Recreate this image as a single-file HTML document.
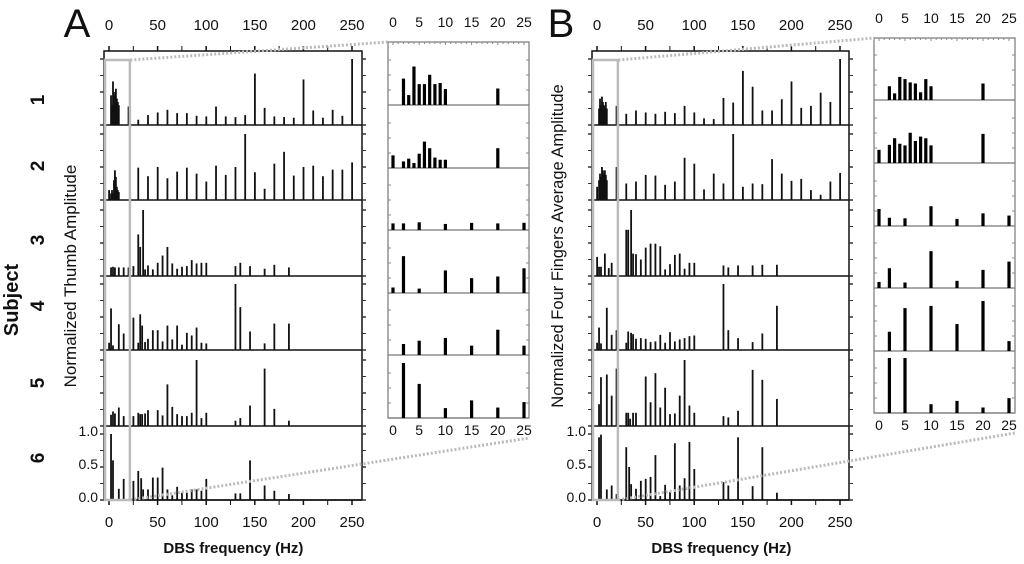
<!DOCTYPE html>
<html><head><meta charset="utf-8"><style>
body{margin:0;background:#fff;width:1024px;height:564px;overflow:hidden;font-family:"Liberation Sans",sans-serif}
svg{display:block}
</style></head><body>
<svg id="fig" width="1024" height="564" viewBox="0 0 1024 564" xmlns="http://www.w3.org/2000/svg" font-family="Liberation Sans, sans-serif"></svg>
<script>
// ---- data ----
const subjects = ["1","2","3","4","5","6"];
const mainTicks = [0,50,100,150,200,250];
const insetTicks = [0,5,10,15,20,25];
const yTickLabels = ["1.0","0.5","0.0"];
const yTickValues = [1,0.5,0];
const mainAFreq = [
 [2,3,4,5,6,7,8,9,10,20,30,40,50,60,70,80,90,100,110,120,130,140,150,160,170,180,190,200,210,220,230,240,250],
 [0,2,3,4,5,6,7,8,9,10,30,40,50,60,70,80,90,100,110,120,130,140,150,160,170,180,190,200,210,220,230,240,250],
 [2,4,6,10,15,20,25,30,32,35,37,40,45,50,55,60,65,70,75,80,85,90,95,100,130,135,145,160,170,185],
 [0,2,4,10,15,25,30,32,34,37,40,45,50,55,60,65,70,75,80,85,90,95,100,130,135,145,160,170,185],
 [2,4,6,10,15,25,30,32,34,37,40,50,55,60,65,70,75,80,85,90,95,100,130,135,145,160,170,185],
 [2,4,10,15,25,30,33,35,40,45,50,55,60,65,70,75,80,85,90,95,100,130,135,145,160,170,185]];
const mainAVal = [
 [0.45,0.3,0.66,0.5,0.45,0.55,0.4,0.35,0.3,0.28,0.08,0.15,0.19,0.23,0.18,0.18,0.14,0.13,0.28,0.13,0.12,0.15,0.78,0.26,0.13,0.12,0.11,0.69,0.22,0.11,0.23,0.14,1.0],
 [0.15,0.1,0.15,0.1,0.3,0.45,0.35,0.2,0.15,0.12,0.49,0.36,0.5,0.33,0.43,0.49,0.4,0.28,0.52,0.38,0.5,1.0,0.42,0.17,0.55,0.73,0.37,0.5,0.52,0.36,0.46,0.46,0.57],
 [0.13,0.14,0.13,0.13,0.13,0.13,0.15,0.63,0.44,1.0,0.1,0.16,0.1,0.2,0.31,0.44,0.19,0.11,0.14,0.15,0.24,0.19,0.2,0.2,0.15,0.2,0.15,0.11,0.17,0.13],
 [0.11,0.63,0.07,0.39,0.25,0.49,0.11,0.54,0.37,0.12,0.17,0.3,0.3,0.13,0.37,0.16,0.37,0.08,0.26,0.22,0.34,0.11,0.1,1.0,0.65,0.28,0.1,0.4,0.4],
 [0.17,0.22,0.19,0.28,0.15,0.15,0.2,0.18,0.18,0.19,0.24,0.24,0.16,0.63,0.29,0.18,0.15,0.15,0.2,1.0,0.12,0.2,0.08,0.12,0.31,0.87,0.26,0.08],
 [1.0,0.6,0.17,0.32,0.29,0.44,0.33,0.16,0.16,0.34,0.34,0.49,0.16,0.07,0.2,0.11,0.11,0.16,0.16,0.14,0.32,0.1,0.1,0.6,0.22,0.14,0.09]];
const mainBFreq = [
 [2,3,4,5,6,7,8,9,10,20,30,40,50,60,70,80,90,100,110,120,130,140,150,160,170,180,190,200,210,220,230,240,250],
 [0,2,3,4,5,6,7,8,9,10,20,30,40,50,60,70,80,90,100,110,120,130,140,150,160,170,180,190,200,210,220,230,240,250],
 [0,2,4,8,12,15,30,32,35,37,40,45,50,55,60,65,70,75,80,85,90,95,100,130,135,145,160,170,185],
 [0,2,4,10,15,20,30,32,35,37,40,45,50,55,60,65,70,75,80,85,90,95,100,130,135,145,160,170,185],
 [2,4,10,15,20,30,32,34,37,40,50,55,60,65,70,75,80,85,90,95,100,130,135,145,160,170,185],
 [2,4,10,15,20,30,33,35,40,45,50,55,60,65,70,75,80,85,90,95,100,130,135,145,160,170,185]];
const mainBVal = [
 [0.25,0.4,0.3,0.43,0.35,0.3,0.28,0.35,0.25,0.29,0.17,0.22,0.19,0.17,0.2,0.18,0.29,0.19,0.1,0.09,0.41,0.34,0.82,0.58,0.22,0.22,0.39,0.66,0.26,0.29,0.49,0.35,1.0],
 [0.2,0.3,0.4,0.35,0.5,0.45,0.4,0.45,0.38,0.3,0.5,0.25,0.28,0.38,0.37,0.23,0.28,0.64,0.55,0.16,0.4,0.25,1.0,0.2,0.25,0.24,0.62,0.4,0.29,0.32,0.15,0.08,0.28,0.41],
 [0.29,0.14,0.14,0.34,0.12,0.2,0.7,0.7,1.0,0.34,0.33,0.25,0.43,0.49,0.49,0.45,0.1,0.18,0.32,0.34,0.11,0.2,0.2,0.16,0.13,0.16,0.16,0.17,0.17],
 [0.11,0.34,0.1,0.64,0.23,0.3,0.11,0.28,0.26,0.24,0.17,0.18,0.17,0.12,0.13,0.23,0.11,0.27,0.13,0.16,0.18,0.21,0.22,1.0,0.3,0.18,0.12,0.25,0.67],
 [0.33,0.74,0.78,0.46,0.87,0.2,0.2,0.11,0.2,0.2,0.75,0.36,0.8,0.28,0.58,0.18,0.19,0.46,1.0,0.31,0.2,0.15,0.13,0.23,0.85,0.7,0.41],
 [0.95,0.99,0.16,0.22,0.09,0.8,0.5,0.24,0.17,0.29,0.32,0.35,0.68,0.06,0.23,0.12,0.86,0.22,0.33,0.88,0.47,0.27,0.22,0.95,0.21,0.8,0.11]];
const insetFreq12 = [[2,3,4,5,6,7,8,9,10,20],[0,2,3,4,5,6,7,8,9,10,20]];
const insetFreqRest = [0,2,5,10,15,20,25];
const insetAVal = [
 [0.48,0.18,0.7,0.38,0.38,0.55,0.38,0.4,0.29,0.3],
 [0.23,0.12,0.17,0.09,0.26,0.48,0.36,0.19,0.15,0.15,0.36],
 [0.12,0.12,0.14,0.11,0.13,0.12,0.13],
 [0.1,0.67,0.08,0.41,0.27,0.3,0.45],
 [0,0.2,0.26,0.31,0.17,0.46,0.17],
 [0,1.0,0.62,0.18,0.32,0.19,0.29]];
const insetBVal = [
 [0.25,0.12,0.42,0.38,0.32,0.3,0.14,0.38,0.25,0.3],
 [0.24,0.33,0.45,0.35,0.32,0.55,0.4,0.48,0.45,0.32,0.53],
 [0.31,0.15,0.14,0.36,0.13,0.23,0.19],
 [0.11,0.36,0.1,0.67,0.13,0.33,0.48],
 [0,0.35,0.78,0.82,0.49,0.91,0.18],
 [0,1.0,1.0,0.16,0.22,0.1,0.27]];

// ---- drawing ----
const NS="http://www.w3.org/2000/svg";
const svg=document.getElementById('fig');
function mk(tag,attrs,parent){const e=document.createElementNS(NS,tag);for(const k in attrs)e.setAttribute(k,attrs[k]);(parent||svg).appendChild(e);return e;}
function txt(s,x,y,size,attrs,parent){const t=mk('text',Object.assign({x:x,y:y,'font-size':size,'text-anchor':'middle',fill:'#111'},attrs||{}),parent);t.textContent=s;return t;}

const mainRowsBottom=[125,200,276,350,426,500];
const mainTop=51, mainUnit=66;
const insA={left:388,right:529,top:42,x0:393,sx:5.24,rows:[105,168,230,293,355,418]};
const insB={left:874,right:1015,top:38,x0:879,sx:5.2,rows:[100,163,226,288,351,413]};
const insUnit=55;

function drawPanel(p){
  const g=mk('g',{});
  
  
  const X=f=>p.x0+f*0.972;
  const fr=mk('rect',{x:p.left,y:mainTop,width:p.right-p.left,height:500-mainTop,fill:'none',stroke:'#111','stroke-width':1.5},g);
  
  
  mainRowsBottom.forEach((yb,r)=>{
    mk('line',{x1:p.left,x2:p.right,y1:yb,y2:yb,stroke:'#111','stroke-width':1.5},g);
    for(let k=0;k<5;k++){const y=yb-k*0.25*mainUnit;
      mk('line',{x1:p.left-4,x2:p.left,y1:y,y2:y,stroke:'#333','stroke-width':k%2?1:1.5},g);
      mk('line',{x1:p.right,x2:p.right+4,y1:y,y2:y,stroke:'#333','stroke-width':k%2?1:1.5},g);}
  });
  for(let f=0;f<=250;f+=25){
    mk('line',{x1:X(f),x2:X(f),y1:mainTop-5,y2:mainTop,stroke:'#111','stroke-width':f%50?1:1.5},g);
    mk('line',{x1:X(f),x2:X(f),y1:500,y2:505,stroke:'#111','stroke-width':f%50?1:1.5},g);
  }
  mainTicks.forEach(f=>{
    const a=txt(String(f),X(f),30,15,{},g);
    
    
    const b=txt(String(f),X(f),527,15,{},g);
    
    
  });
  yTickValues.forEach((v,i)=>{
    const t=txt(yTickLabels[i],p.left-6,500-3-v*mainUnit+5,14,{'text-anchor':'end'},g);
    
    
  });
  p.freq.forEach((fr,r)=>{
    fr.forEach((f,i)=>{
      const v=p.val[r][i];const h=v*mainUnit;
      const b=mk('rect',{x:X(f)-0.8,y:mainRowsBottom[r]-h,width:1.8,height:h,fill:'#111'},g);
      
      
    });
  });
  const zb=mk('rect',{x:p.left+1,y:60,width:X(21.5)-p.left-1,height:440,fill:'none',stroke:'#bbb','stroke-width':2.5},g);
  
  
  const I=p.ins;const XI=f=>I.x0+f*I.sx;
  const ir=mk('rect',{x:I.left,y:I.top,width:I.right-I.left,height:I.rows[5]-I.top,fill:'#fff',stroke:'#777','stroke-width':1.2},g);
  
  
  I.rows.forEach(yb=>{mk('line',{x1:I.left,x2:I.right,y1:yb,y2:yb,stroke:'#777','stroke-width':1.2},g);
    for(let k=1;k<4;k++){const y=yb-k*15;mk('line',{x1:I.left,x2:I.left+3,y1:y,y2:y,stroke:'#888'},g);mk('line',{x1:I.right-3,x2:I.right,y1:y,y2:y,stroke:'#888'},g);}});
  for(let f=0;f<=25;f++){mk('line',{x1:XI(f),x2:XI(f),y1:I.top,y2:I.top+(f%5?2:3),stroke:'#888'},g);}
  insetTicks.forEach(f=>{
    const a=txt(String(f),XI(f),I.top-15,14,{},g);
    
    
    const b=txt(String(f),XI(f),I.rows[5]+17,14,{},g);
    
    
  });
  p.insVal.forEach((vals,r)=>{
    const fr=r<2?insetFreq12[r]:insetFreqRest;
    vals.forEach((v,i)=>{ if(v<=0)return; const h=v*insUnit;
      const b=mk('rect',{x:XI(fr[i])-1.6,y:I.rows[r]-h,width:3.2,height:h,fill:'#000'},g);
      
      
    });
  });
  mk('line',{x1:X(22),y1:60,x2:I.left,y2:I.top,stroke:'#bbb','stroke-width':3,'stroke-dasharray':'2 2'},g);
  mk('line',{x1:X(22),y1:500,x2:I.right,y2:I.rows[5]+20,stroke:'#bbb','stroke-width':3,'stroke-dasharray':'2 2'},g);
  const L=txt(p.letter,p.letterX,37,40,{},g);
  
  
  const xt=txt('DBS frequency (Hz)',X(128),553,15,{'font-weight':'bold'},g);
  
  
  const yt=txt(p.ytitle,0,0,p.ytSize,{transform:'translate('+p.ytX+','+p.ytY+') rotate(-90)'},g);
  
  
}

drawPanel({name:'panel-a',letter:'A',letterX:77,left:104,right:362,x0:109,freq:mainAFreq,val:mainAVal,ins:insA,insVal:insetAVal,ytitle:'Normalized Thumb Amplitude',ytX:76,ytY:276,ytSize:17});
drawPanel({name:'panel-b',letter:'B',letterX:561,left:592,right:849,x0:597,freq:mainBFreq,val:mainBVal,ins:insB,insVal:insetBVal,ytitle:'Normalized Four Fingers Average Amplitude',ytX:563,ytY:246,ytSize:16.5});

const rowLabelY=[100,166,240,306,383,458];
subjects.forEach((s,i)=>{
  const t=txt(s,0,0,19,{'font-weight':'bold',transform:'translate(44,'+rowLabelY[i]+') rotate(-90)'});
  
  
});
const st=txt('Subject',0,0,20,{'font-weight':'bold',transform:'translate(18,300) rotate(-90)'});


</script>
</body></html>
